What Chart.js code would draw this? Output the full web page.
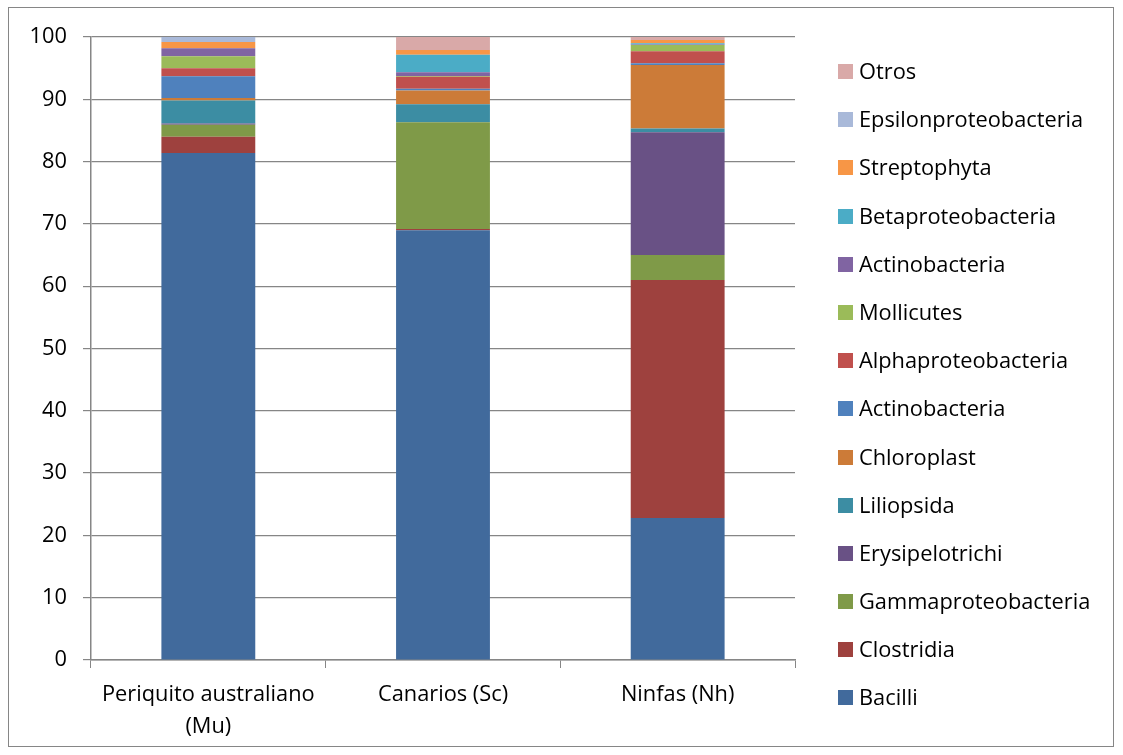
<!DOCTYPE html>
<html>
<head>
<meta charset="utf-8">
<script src="https://cdn.jsdelivr.net/npm/chart.js@4/dist/chart.umd.min.js"></script>
<style>
  html, body { margin: 0; padding: 0; background: #fff; }
  #wrap { position: relative; width: 1123px; height: 755px; }
  #frame { position: absolute; left: 8px; top: 7px; width: 1106px; height: 740px; border: 1.5px solid #868686; box-sizing: border-box; }
  #chart { position: absolute; left: 0; top: 0; }
  #legend { position: absolute; left: 838px; top: 57px; font-family: "Open Sans", "Noto Sans", sans-serif; font-size: 21.8px; color: #000; }
  .item { height: 48.2px; display: flex; align-items: flex-start; line-height: 28px; }
  .sw { width: 15px; height: 15px; margin-top: 7px; margin-right: 6px; }
</style>
</head>
<body>
<div id="wrap">
  <div id="frame"></div>
  <canvas id="chart" width="1123" height="755"></canvas>
  <div id="legend"></div>
</div>
<script>
// --- Data ---
const groups = [['Periquito australiano', '(Mu)'], 'Canarios (Sc)', 'Ninfas (Nh)'];

const taxa = ['Bacilli', 'Clostridia', 'Gammaproteobacteria', 'Erysipelotrichi', 'Liliopsida',
  'Chloroplast', 'Actinobacteria', 'Alphaproteobacteria', 'Mollicutes', 'Actinobacteria',
  'Betaproteobacteria', 'Streptophyta', 'Epsilonproteobacteria', 'Otros'];

const colors = ['#416A9C', '#9E413E', '#7F9A48', '#695185', '#3C8DA3',
  '#CC7B38', '#4F81BD', '#C0504D', '#9BBB59', '#8064A2',
  '#4BACC6', '#F79646', '#A9B9D9', '#D9A9A8'];

// percent per taxon, one value per group (Mu, Sc, Nh)
const bacilli      = [81.4, 69.0, 22.8];
const clostridia   = [2.6, 0.2, 38.2];
const gamma        = [1.9, 17.1, 4.0];
const erysip       = [0.2, 0.0, 19.7];
const liliopsida   = [3.7, 2.9, 0.6];
const chloroplast  = [0.4, 2.2, 10.2];
const actinoA      = [3.5, 0.3, 0.3];
const alpha        = [1.3, 1.9, 1.9];
const mollicutes   = [1.9, 0.15, 1.0];
const actinoB      = [1.3, 0.6, 0.1];
const beta         = [0.0, 2.8, 0.2];
const strepto      = [1.0, 0.75, 0.5];
const epsilon      = [0.8, 0.0, 0.0];
const otros        = [0.1, 2.1, 0.5];

const series = [bacilli, clostridia, gamma, erysip, liliopsida, chloroplast, actinoA,
  alpha, mollicutes, actinoB, beta, strepto, epsilon, otros];

const yTicks = [0, 10, 20, 30, 40, 50, 60, 70, 80, 90, 100];

const FONT = '"Open Sans", "Noto Sans", sans-serif';
const AXIS = '#868686';

// --- Chart ---
new Chart(document.getElementById('chart'), {
  type: 'bar',
  data: {
    labels: groups,
    datasets: series.map((d, i) => ({
      label: taxa[i],
      data: d,
      backgroundColor: colors[i],
      borderWidth: 0,
      categoryPercentage: 1,
      barPercentage: 0.4
    }))
  },
  options: {
    responsive: false,
    animation: false,
    layout: { padding: { top: 37, right: 328, bottom: 0, left: 0 } },
    plugins: { legend: { display: false }, tooltip: { enabled: false } },
    scales: {
      x: {
        stacked: true,
        grid: { drawOnChartArea: false, drawTicks: true, tickLength: 8, color: AXIS, offset: true },
        border: { color: AXIS, width: 1.5 },
        ticks: { color: '#000', font: { family: FONT, size: 21.8, lineHeight: 1.45 }, padding: 11, maxRotation: 0 },
        afterFit: s => { s.height = 95; }
      },
      y: {
        stacked: true,
        min: 0, max: 100,
        afterBuildTicks: s => { s.ticks = yTicks.map(v => ({ value: v })); },
        grid: { color: AXIS, lineWidth: 1.2, tickLength: 8 },
        border: { color: AXIS, width: 1.5 },
        ticks: { color: '#000', font: { family: FONT, size: 21.8 }, padding: 16 },
        afterFit: s => { s.width = 91; }
      }
    }
  }
});

// legend, top entry is the last stacked series
document.getElementById('legend').innerHTML = taxa.map((t, i) => `
  <div class="item"><div class="sw" style="background:${colors[i]}"></div><span>${t}</span></div>
`).reverse().join('');
</script>
</body>
</html>
